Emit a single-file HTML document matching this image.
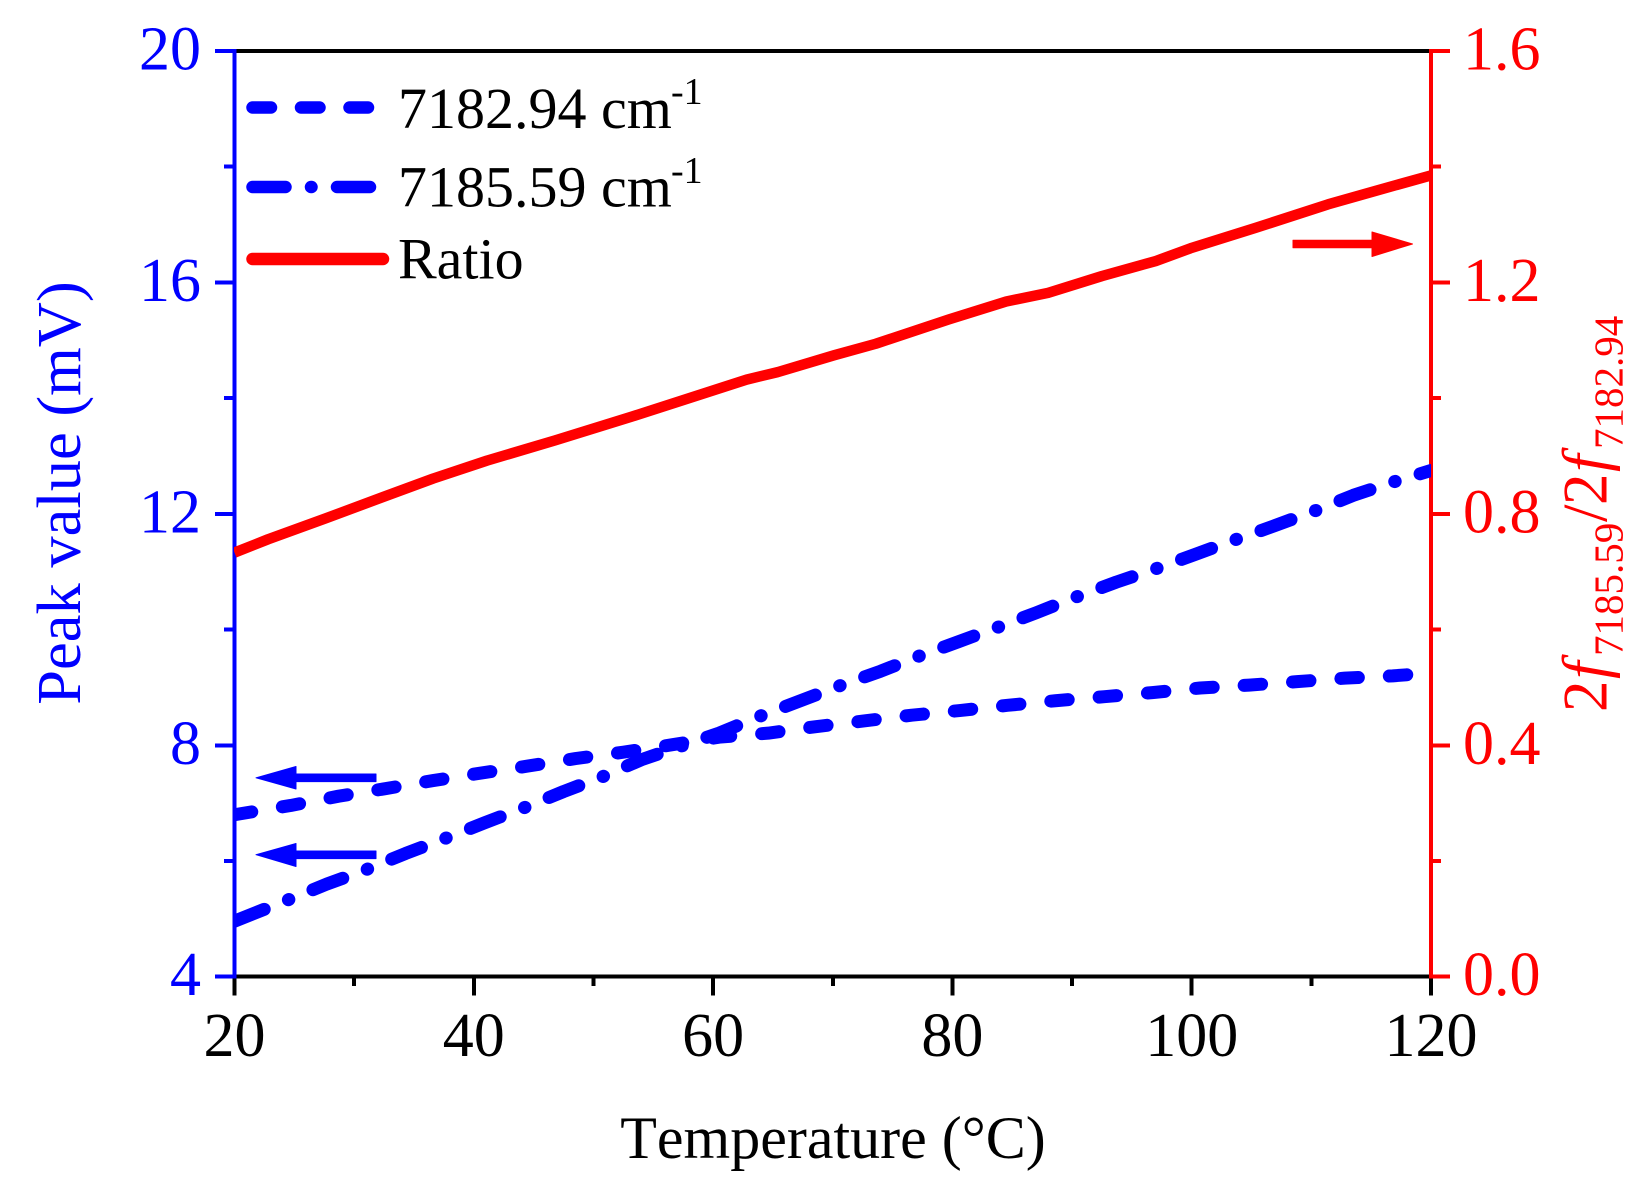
<!DOCTYPE html>
<html lang="en">
<head>
<meta charset="utf-8">
<title>Peak value and ratio versus temperature</title>
<style>
html,body{margin:0;padding:0;background:#fff;}
svg{display:block;}
text{font-family:"Liberation Serif","Times New Roman",serif;font-kerning:none;}
</style>
</head>
<body>
<svg id="chart" xmlns="http://www.w3.org/2000/svg" width="1651" height="1197" viewBox="0 0 1651 1197">
  <defs>
    <clipPath id="plot-clip"><rect x="234" y="40" width="1197" height="945"/></clipPath>
  </defs>
  <rect x="0" y="0" width="1651" height="1197" fill="#fff"/>
  <g id="axes" shape-rendering="crispEdges"></g>
  <g id="marks" clip-path="url(#plot-clip)"></g>
  <g id="labels" font-size="62"></g>

  <text x="833" y="1158" font-size="60" text-anchor="middle" fill="#000">Temperature (°C)</text>
  <text transform="translate(80,493) rotate(-90)" font-size="62.5" text-anchor="middle" fill="#00f">Peak value (mV)</text>
  <g transform="translate(1606.7,711) rotate(-90)" fill="#f00">
    <text x="-1" y="0" font-size="63">2</text>
    <text x="32" y="0" font-size="63" font-style="italic">f</text>
    <text x="55" y="16" font-size="41">7185.59</text>
    <text x="189" y="0" font-size="63">/</text>
    <text x="206" y="0" font-size="63">2</text>
    <text x="239" y="0" font-size="63" font-style="italic">f</text>
    <text x="262" y="16" font-size="41">7182.94</text>
  </g>

  <g>
    <line x1="252.5" y1="107.5" x2="373" y2="107.5" stroke="#00f" stroke-width="12.5" stroke-linecap="round" stroke-dasharray="18.5 30"/>
    <text x="398" y="128" font-size="58" fill="#000">7182.94 cm</text>
    <text x="671" y="104" font-size="38" fill="#000">-1</text>
    <line x1="252.5" y1="187" x2="370" y2="187" stroke="#00f" stroke-width="12.5" stroke-linecap="round" stroke-dasharray="33 25.5 0.5 25.5"/>
    <text x="398" y="206.6" font-size="58" fill="#000">7185.59 cm</text>
    <text x="671" y="183" font-size="38" fill="#000">-1</text>
    <line x1="252.5" y1="259" x2="383" y2="259" stroke="#f00" stroke-width="12.5" stroke-linecap="round"/>
    <text x="398" y="278.6" font-size="58" fill="#000">Ratio</text>
  </g>

  <g>
    <path d="M376 774 H296 V766.5 L256 777.8 L296 789 V781.6 H376 Z" fill="#00f" stroke="#00f" stroke-width="1" stroke-linejoin="round"/>
    <path d="M376 851 H296 V843.5 L256 854.7 L296 866.5 V858.6 H376 Z" fill="#00f" stroke="#00f" stroke-width="1" stroke-linejoin="round"/>
    <path d="M1293 240.2 H1372 V232 L1412.5 244 L1372 256.5 V247.8 H1293 Z" fill="#f00" stroke="#f00" stroke-width="1" stroke-linejoin="round"/>
  </g>
</svg>
<script>
// ---- chart data ----
var xTickLabels = [20, 40, 60, 80, 100, 120];
var xMinorTicks = [30, 50, 70, 90, 110];
var leftTickLabels = [4, 8, 12, 16, 20];
var leftMinorTicks = [6, 10, 14, 18];
var rightTickLabels = ["0.0", "0.4", "0.8", "1.2", "1.6"];
var rightMinorTicks = [0.2, 0.6, 1.0, 1.4];

var temps7182 = [20, 24.7, 28.7, 32.6, 36.6, 40.6, 44.5, 48.5, 52.5, 56.6, 60.5, 64.6, 68.5, 72.6, 76.6, 80.6, 84.6, 88.6, 92.7, 96.7, 100.7, 104.8, 108.8, 112.8, 116.8, 118.1];
var peak7182 = [6.80, 6.96, 7.12, 7.25, 7.39, 7.52, 7.64, 7.77, 7.88, 8.01, 8.14, 8.21, 8.32, 8.42, 8.52, 8.60, 8.69, 8.77, 8.84, 8.91, 8.99, 9.04, 9.10, 9.16, 9.20, 9.22];

var temps7185 = [20, 24.5, 27.7, 31, 34.3, 37.6, 40.9, 44.2, 47.5, 50.8, 54, 60.5, 64, 70.6, 74, 77.2, 80.5, 83.8, 87, 90.3, 93.7, 97, 100.3, 103.6, 107, 110.4, 113.5, 117, 120];
var peak7185 = [4.96, 5.33, 5.60, 5.85, 6.13, 6.39, 6.66, 6.92, 7.20, 7.46, 7.75, 8.21, 8.51, 9.03, 9.28, 9.54, 9.79, 10.04, 10.29, 10.56, 10.82, 11.05, 11.30, 11.55, 11.80, 12.06, 12.32, 12.56, 12.75];

var tempsRatio = [20, 22.8, 27.6, 32.4, 36.6, 41.1, 46.8, 53.2, 58.3, 62.8, 65.4, 70.1, 73.6, 79.7, 84.5, 88.0, 92.5, 97.0, 99.9, 105.3, 111.4, 115.5, 120];
var ratioValues = [0.733, 0.756, 0.792, 0.829, 0.861, 0.892, 0.927, 0.968, 1.002, 1.032, 1.045, 1.074, 1.094, 1.136, 1.167, 1.182, 1.211, 1.237, 1.259, 1.294, 1.335, 1.359, 1.385];

// ---- axis functions ----
function xScale(t){ return 234.5 + (t - 20) * (1431 - 234.5) / 100; }
function yLeft(v){ return 976.7 - (v - 4) * (976.7 - 51) / 16; }
function yRight(v){ return 976.7 - v * (976.7 - 51) / 1.6; }

var NS = "http://www.w3.org/2000/svg";
var axes = document.getElementById("axes");
var marks = document.getElementById("marks");
var labels = document.getElementById("labels");

function drawLine(parent, x1, y1, x2, y2, color, width){
  var l = document.createElementNS(NS, "line");
  l.setAttribute("x1", x1);
  l.setAttribute("y1", y1);
  l.setAttribute("x2", x2);
  l.setAttribute("y2", y2);
  l.setAttribute("stroke", color);
  l.setAttribute("stroke-width", width);
  parent.appendChild(l);
  return l;
}
function drawLabel(x, y, str, anchor, color){
  var t = document.createElementNS(NS, "text");
  t.setAttribute("x", x);
  t.setAttribute("y", y);
  t.setAttribute("text-anchor", anchor);
  t.setAttribute("fill", color);
  t.textContent = str;
  labels.appendChild(t);
  return t;
}
function drawSeries(xs, ys, yFn, color, width, dash){
  var p = document.createElementNS(NS, "polyline");
  var pts = [];
  for (var i = 0; i < xs.length; i++) {
    pts.push(xScale(xs[i]).toFixed(2) + "," + yFn(ys[i]).toFixed(2));
  }
  p.setAttribute("points", pts.join(" "));
  p.setAttribute("fill", "none");
  p.setAttribute("stroke", color);
  p.setAttribute("stroke-width", width);
  p.setAttribute("stroke-linejoin", "round");
  if (dash) {
    p.setAttribute("stroke-dasharray", dash);
    p.setAttribute("stroke-linecap", "round");
  }
  marks.appendChild(p);
  return p;
}

// frame
var topAxis = drawLine(axes, xScale(20), yLeft(20), xScale(120), yLeft(20), "#000", 4);


var bottomAxis = drawLine(axes, xScale(20), yLeft(4), xScale(120), yLeft(4), "#000", 4);



// x ticks
xTickLabels.forEach(function(v){
  var tick = drawLine(axes, xScale(v), yLeft(4), xScale(v), 995.5, "#000", 4);
  
  
  var lab = drawLabel(xScale(v), 1056, String(v), "middle", "#000");
  
  
});
xMinorTicks.forEach(function(v){
  var tick = drawLine(axes, xScale(v), yLeft(4), xScale(v), 986, "#000", 4);
  
  
});

// left axis
var leftAxis = drawLine(axes, xScale(20), yLeft(20) - 2, xScale(20), yLeft(4) + 2, "#00f", 4);


leftTickLabels.forEach(function(v){
  var tick = drawLine(axes, 215, yLeft(v), xScale(20), yLeft(v), "#00f", 4);
  
  
  var lab = drawLabel(201, yLeft(v) + 18.5, String(v), "end", "#00f");
  
  
});
leftMinorTicks.forEach(function(v){
  var tick = drawLine(axes, 224, yLeft(v), xScale(20), yLeft(v), "#00f", 4);
  
  
});

// right axis
var rightAxis = drawLine(axes, xScale(120), yRight(1.6) - 2, xScale(120), 995.5, "#f00", 4);


rightTickLabels.forEach(function(s){
  var v = parseFloat(s);
  var tick = drawLine(axes, xScale(120), yRight(v), 1450, yRight(v), "#f00", 4);
  
  
  var lab = drawLabel(1463, yRight(v) + 18.5, s, "start", "#f00");
  
  
});
rightMinorTicks.forEach(function(v){
  var tick = drawLine(axes, xScale(120), yRight(v), 1441, yRight(v), "#f00", 4);
  
  
});
// black foot of the x axis at 120
var endTick = drawLine(axes, xScale(120), yLeft(4) + 2, xScale(120), 995.5, "#000", 4);



// series
var line7182 = drawSeries(temps7182, peak7182, yLeft, "#00f", 13, "17.5 31");


var line7185 = drawSeries(temps7185, peak7185, yLeft, "#00f", 13, "32 26 0.5 26");


var lineRatio = drawSeries(tempsRatio, ratioValues, yRight, "#f00", 10.5, null);


</script>
</body>
</html>
